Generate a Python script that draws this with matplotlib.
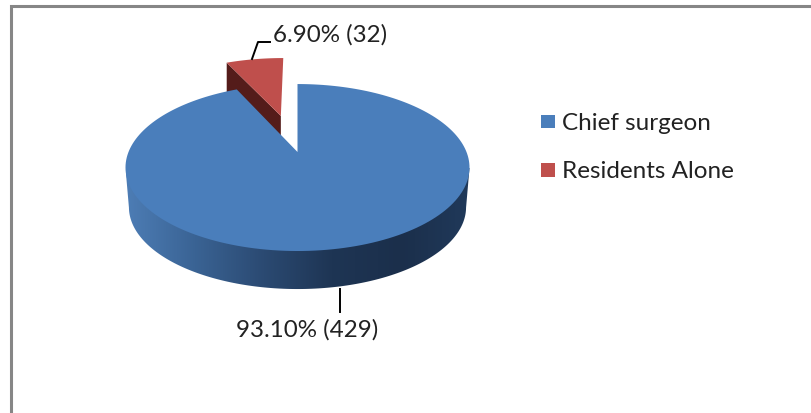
import numpy as np
import matplotlib
matplotlib.use("Agg")
import matplotlib.pyplot as plt
from matplotlib.patches import Polygon
from matplotlib.colors import LinearSegmentedColormap

kategorie = ["Chief surgeon", "Residents Alone"]
procenty = [93.10, 6.90]
liczby = [429, 32]
kolory = ["#4a7ebb", "#bf4f4c"]

plt.rcParams["font.family"] = ["Lato", "DejaVu Sans"]

W, H = 811, 414
fig = plt.figure(figsize=(W / 100, H / 100), dpi=100)
ax = fig.add_axes([0, 0, 1, 1])
ax.set_xlim(0, W)
ax.set_ylim(H, 0)
ax.axis("off")

# srodek i rozmiar kola, perspektywa
cx, cy = 297.5, 153
rx, ry, k = 169, 80.6, 0.186
glebokosc = 40
skala_dol = 0.98
wysun = 0.5


def rzut(u, v, skala=1.0, dy=0.0):
    x = cx + skala * rx * u / (1 + k * v)
    y = cy + dy - skala * ry * v / (1 + k * v)
    return x, y


def wycinek(start, stop, srodek=(0, 0), skala=1.0, dy=0.0):
    # katy w stopniach od godziny 12, zgodnie z zegarem
    t = np.radians(np.linspace(start, stop, 200))
    u = np.concatenate([[srodek[0]], srodek[0] + np.sin(t)])
    v = np.concatenate([[srodek[1]], srodek[1] + np.cos(t)])
    x, y = rzut(u, v, skala, dy)
    return np.column_stack([x, y])


kat_niebieski = 360 * procenty[0] / sum(procenty)

# scianka boczna, gradient przyciety do obrysu
t = np.radians(np.linspace(0, 360, 400))
gora = np.column_stack(rzut(np.sin(t), np.cos(t)))
dol = np.column_stack(rzut(np.sin(t), np.cos(t), skala_dol, glebokosc))
cm_bok = LinearSegmentedColormap.from_list(
    "bok", ["#4d7db5", "#3a6394", "#2b4a72", "#1e3554", "#1b2f4b", "#20395a"])

x0, x1 = gora[:, 0].min(), gora[:, 0].max()
g = np.linspace(0, 1, 256).reshape(1, -1)
obraz = ax.imshow(g, cmap=cm_bok, extent=[x0, x1, 300, 150], aspect="auto", zorder=2)
ax.set_xlim(0, W)
ax.set_ylim(H, 0)
# dolny obrys + pas miedzy lewym a prawym skrajem
lewy = np.argmin(dol[:, 0])
prawy = np.argmax(dol[:, 0])
luk = dol[prawy:lewy + 1]
ig = np.argmin(gora[:, 0])
ip = np.argmax(gora[:, 0])
pas = np.vstack([gora[ip], luk, gora[ig]])
klip = Polygon(pas, transform=ax.transData, fc="none", ec="none")
ax.add_patch(klip)
obraz.set_clip_path(klip)

# czerwony wycinek: najpierw bok, potem gora
srodek_cz = (wysun * np.sin(np.radians((kat_niebieski + 360) / 2)),
             wysun * np.cos(np.radians((kat_niebieski + 360) / 2)))
cz_gora = wycinek(kat_niebieski, 360, srodek_cz)
lewy_cz = cz_gora[1]
apex_cz = cz_gora[0]
ax.add_patch(Polygon([lewy_cz, apex_cz, apex_cz + [0, glebokosc], lewy_cz + [0, glebokosc]],
                     fc="#541c1a", ec="none", zorder=3))
ax.add_patch(Polygon(cz_gora, fc=kolory[1], ec="none", zorder=4))

# gorna sciana niebieskiego wycinka
ax.add_patch(Polygon(wycinek(0, kat_niebieski), fc=kolory[0], ec="none", zorder=5))

# linie odniesienia
ax.plot([340, 340], [290, 313], color="black", lw=1.4, zorder=6)
ax.plot([252, 258, 270], [60, 43, 43], color="black", lw=1.4, zorder=6)

ax.text(307.5, 337, f"{procenty[0]:.2f}% ({liczby[0]})", fontsize=17.4, color="#222222",
        ha="center", va="baseline")
ax.text(330.5, 42, f"{procenty[1]:.2f}% ({liczby[1]})", fontsize=17.4, color="#222222",
        ha="center", va="baseline")

# legenda
for y, baza, nazwa, kolor in zip([122.5, 171], [130, 178], kategorie, kolory):
    ax.add_patch(Polygon([[541, y - 6.8], [555, y - 6.8], [555, y + 6.8], [541, y + 6.8]],
                         fc=kolor, ec="none"))
    ax.text(562, baza, nazwa, fontsize=17.5, color="#222222", ha="left", va="baseline")

# ramka
ax.plot([10.5, 10.5, W], [H, 7, 7], color="#868686", lw=2.2, solid_joinstyle="miter")

fig.savefig("out.png", dpi=100)
